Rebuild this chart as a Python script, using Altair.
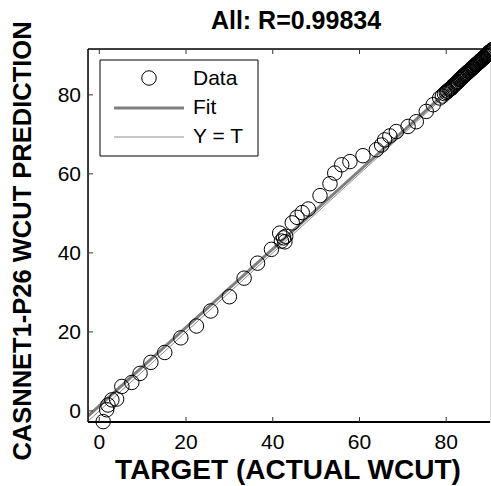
import altair as alt
import pandas as pd

# ---- data ----
target = [0.9, 1.7, 2.0, 2.9, 4.0, 5.2, 7.5, 9.4, 11.9, 15.1, 18.8, 22.4, 25.7, 30.0,
          33.4, 36.5, 39.7, 41.6, 42.0, 42.5, 42.8, 43.0, 44.5, 45.6, 46.8, 48.2,
          50.9, 53.2, 54.3, 55.9, 57.8, 60.8, 63.9, 65.1, 65.8, 67.0, 68.5, 71.2,
          73.1, 75.4, 77.0, 78.5, 79.1, 79.6,
          80.0, 80.2, 80.4, 80.7, 80.9, 81.1, 81.3, 81.5, 81.7, 82.0, 82.2, 82.4,
          82.6, 82.8, 83.1, 83.3, 83.5, 83.7, 83.8, 84.0, 84.2, 84.4, 84.5, 84.7,
          84.9, 85.1, 85.2, 85.4, 85.6, 85.8, 85.9, 86.1, 86.2, 86.4, 86.6, 86.8,
          86.9, 87.1, 87.2, 87.4, 87.6, 87.8, 87.9, 88.1, 88.2, 88.4, 88.5, 88.7,
          88.9, 89.1, 89.2, 89.4, 89.5, 89.7, 89.8, 90.0, 90.2, 90.4, 90.6, 90.8, 91.0]
output = [-2.7, 0.3, 1.5, 2.8, 3.0, 6.2, 7.2, 9.5, 12.3, 14.8, 18.5, 21.5, 25.3, 28.9,
          33.6, 37.4, 40.9, 45.0, 43.0, 43.8, 42.8, 44.2, 47.6, 49.0, 50.2, 51.1,
          54.5, 57.5, 60.2, 62.3, 63.1, 64.6, 66.1, 67.3, 68.6, 69.6, 70.7, 72.0,
          73.2, 75.8, 77.5, 79.2, 79.7, 80.3,
          80.6, 80.9, 81.0, 81.3, 81.5, 81.6, 81.8, 82.1, 82.4, 82.6, 82.8, 83.1,
          83.2, 83.4, 83.9, 84.0, 84.2, 84.5, 84.6, 84.7, 84.9, 85.2, 85.3, 85.4,
          85.6, 85.9, 86.0, 86.1, 86.3, 86.6, 86.7, 86.8, 87.0, 87.2, 87.3, 87.5,
          87.7, 87.8, 88.0, 88.1, 88.3, 88.5, 88.7, 88.8, 89.0, 89.1, 89.3, 89.4,
          89.6, 89.8, 90.0, 90.1, 90.3, 90.4, 90.7, 90.8, 91.0, 91.1, 91.4, 91.5, 91.6]
fit_t = [-2.6, 90.1]
fit_y = [-1.3, 90.7]
ident_t = [-2.6, 90.1]
x_ticks = [0, 20, 40, 60, 80]
y_ticks = [0, 20, 40, 60, 80]
title_text = "All: R=0.99834"
x_title = "TARGET (ACTUAL WCUT)"
y_title = "CASNNET1-P26 WCUT PREDICTION"
legend_labels = ["Data", "Fit", "Y = T"]

W, H = 402, 373
FONT = "Liberation Sans"
xs = alt.Scale(domain=[-2.6, 90.1], nice=False, zero=False)
ys = alt.Scale(domain=[-2.8, 91.6], nice=False, zero=False)

df = pd.DataFrame({"t": target, "y": output})
fit_df = pd.DataFrame({"t": fit_t, "y": fit_y})
id_df = pd.DataFrame({"t": ident_t, "y": ident_t})
xt = pd.DataFrame({"v": x_ticks})
yt = pd.DataFrame({"v": y_ticks})
one = pd.DataFrame({"a": [0]})

X = lambda f: alt.X(f, scale=xs, axis=None)
Y = lambda f: alt.Y(f, scale=ys, axis=None)

fit = alt.Chart(fit_df).mark_line(color="#7f7f7f", strokeWidth=3, clip=True).encode(x=X("t:Q"), y=Y("y:Q"))
ident = alt.Chart(id_df).mark_line(color="#8c8c8c", strokeWidth=1, clip=True).encode(x=X("t:Q"), y=Y("y:Q"))
pts = alt.Chart(df).mark_point(shape="circle", filled=False, color="black", size=210,
                               strokeWidth=1, opacity=1).encode(x=X("t:Q"), y=Y("y:Q"))

# spines
spine_top = alt.Chart(one).mark_rule(color="black", strokeWidth=1.5).encode(
    x=alt.value(0), x2=alt.value(W), y=alt.value(0))
spine_bottom = alt.Chart(one).mark_rule(color="black", strokeWidth=2).encode(
    x=alt.value(0), x2=alt.value(W), y=alt.value(H))
spine_left = alt.Chart(one).mark_rule(color="black", strokeWidth=1.5).encode(
    x=alt.value(0), y=alt.value(0), y2=alt.value(H))

# inward ticks
tick_b = alt.Chart(xt).mark_rule(color="#333333", strokeWidth=1).encode(
    x=X("v:Q"), y=alt.value(H), y2=alt.value(H - 5))
tick_t = alt.Chart(xt).mark_rule(color="#333333", strokeWidth=1).encode(
    x=X("v:Q"), y=alt.value(0), y2=alt.value(5))
tick_l = alt.Chart(yt).mark_rule(color="#333333", strokeWidth=1).encode(
    y=Y("v:Q"), x=alt.value(0), x2=alt.value(5))

# tick labels
lab_x = alt.Chart(xt).mark_text(font=FONT, fontSize=21, align="center", baseline="alphabetic",
                                color="black").encode(x=X("v:Q"), y=alt.value(H + 27), text=alt.Text("v:Q", format="d"))
lab_y = alt.Chart(yt).mark_text(font=FONT, fontSize=21, align="right", baseline="middle", dy=1,
                                color="black").encode(y=Y("v:Q"), x=alt.value(-7), text=alt.Text("v:Q", format="d"))

# legend
leg_box = alt.Chart(one).mark_rect(fill="white", stroke="black", strokeWidth=1).encode(
    x=alt.value(12), x2=alt.value(170), y=alt.value(11), y2=alt.value(107))
leg_pt = alt.Chart(one).mark_point(shape="circle", filled=False, color="black", size=210,
                                   strokeWidth=1, opacity=1).encode(x=alt.value(61), y=alt.value(29))
leg_fit = alt.Chart(one).mark_rule(color="#7f7f7f", strokeWidth=3).encode(
    x=alt.value(26), x2=alt.value(96), y=alt.value(59))
leg_id = alt.Chart(one).mark_rule(color="#8c8c8c", strokeWidth=1).encode(
    x=alt.value(26), x2=alt.value(96), y=alt.value(88))
leg_txt = [
    alt.Chart(one).mark_text(font=FONT, fontSize=21, align="left", baseline="middle", color="black").encode(
        x=alt.value(105), y=alt.value(yy), text=alt.value(lbl))
    for lbl, yy in zip(legend_labels, [30, 59, 88])
]

# titles
ttl = alt.Chart(one).mark_text(font=FONT, fontSize=25, fontWeight="bold", align="center",
                               baseline="alphabetic", color="black").encode(
    x=alt.value(W / 2 + 7), y=alt.value(-20), text=alt.value(title_text))
xttl = alt.Chart(one).mark_text(font=FONT, fontSize=28, fontWeight="bold", align="center",
                                baseline="alphabetic", color="black").encode(
    x=alt.value(200), y=alt.value(H + 57), text=alt.value(x_title))
yttl = alt.Chart(one).mark_text(font=FONT, fontSize=25.5, fontWeight="bold", align="center",
                                baseline="alphabetic", angle=270, color="black").encode(
    x=alt.value(-57), y=alt.value(192), text=alt.value(y_title))

chart = alt.layer(
    fit, ident, pts, spine_top, spine_bottom, spine_left, tick_b, tick_t, tick_l,
    lab_x, lab_y, leg_box, leg_pt, leg_fit, leg_id, *leg_txt, ttl, xttl, yttl
).properties(
    width=W, height=H,
    autosize=alt.AutoSizeParams(type="none"),
    padding={"left": 88, "top": 49, "right": 1, "bottom": 64},
).configure_view(stroke=None).configure(background="white")

chart.save("out.html", embed_options={"renderer": "svg", "actions": False})
